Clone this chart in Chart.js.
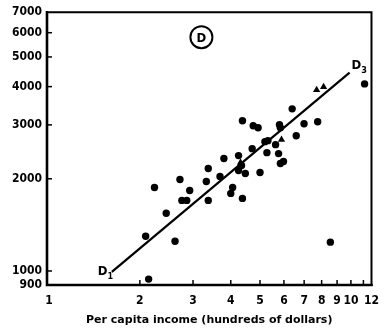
<!DOCTYPE html>
<html><head><meta charset="utf-8">
<script src="https://cdn.jsdelivr.net/npm/chart.js@4.4.0/dist/chart.umd.min.js"></script>
<style>html,body{margin:0;padding:0;background:#fff;} canvas{display:block;}</style>
</head><body>
<canvas id="c" width="388" height="330"></canvas>
<script>
// ---- data (per capita income in hundreds of dollars, y values) ----
const circleX = [2.09, 2.615, 2.138, 2.236, 2.445, 2.715, 2.925, 2.755, 2.86, 3.37, 3.32, 3.37, 3.685, 3.796, 4.245, 4.342, 4.245, 4.47, 4.058, 4.0, 4.373, 4.71, 4.373, 4.747, 4.928, 5.80, 5.84, 6.995, 7.76, 6.39, 6.59, 5.19, 5.31, 5.27, 5.63, 5.76, 5.98, 5.84, 5.0, 11.1, 8.55];
const circleY = [1299, 1251, 941, 1874, 1543, 1990, 1832, 1700, 1700, 2161, 1960, 1700, 2035, 2329, 2381, 2210, 2129, 2081, 1874, 1792, 1726, 2509, 3094, 2981, 2937, 3003, 2937, 3026, 3072, 3385, 2766, 2645, 2665, 2435, 2586, 2417, 2277, 2243, 2097, 4082, 1242];
const triangleX = [5.89, 4.31, 7.70, 8.12];
const triangleY = [2685, 2260, 3903, 3992];
const lineX = [1.615, 9.90];
const lineY = [994, 4442];
const xTickValues = [1, 2, 3, 4, 5, 6, 7, 8, 9, 10, 11, 11.7];
const xTickLabels = ['1', '2', '3', '4', '5', '6', '7', '8', '9', '10', '', '12'];
const yTickValues = [900, 1000, 2000, 3000, 4000, 5000, 6000, 7000];
const yTickLabels = ['900', '1000', '2000', '3000', '4000', '5000', '6000', '7000'];
const xTitle = 'Per capita income (hundreds of dollars)';
const lineLabels = [{text: 'D', sub: '1', x: 1.506, y: 992}, {text: 'D', sub: '3', x: 10.42, y: 4670}];
const panelLabel = {text: 'D', x: 3.198, y: 5803};

const FONT = "'DejaVu Sans Condensed', 'DejaVu Sans', sans-serif";
Chart.defaults.font.family = FONT;
Chart.defaults.color = '#000';

const toPts = (xs, ys) => xs.map((x, i) => ({x: x, y: ys[i]}));

const decor = {
  id: 'decor',
  beforeDraw(chart) {
    const c = chart.ctx;
    c.save(); c.fillStyle = '#fff'; c.fillRect(0, 0, chart.width, chart.height); c.restore();
  },
  afterDraw(chart) {
    const c = chart.ctx, a = chart.chartArea, xs = chart.scales.x, ys = chart.scales.y;
    c.save();
    c.strokeStyle = '#000';
    c.lineCap = 'square';
    // frame
    c.lineWidth = 2;
    c.beginPath(); c.moveTo(a.left, a.top); c.lineTo(a.right, a.top); c.lineTo(a.right, a.bottom); c.stroke();
    c.lineWidth = 2.6;
    c.beginPath(); c.moveTo(a.left, a.top); c.lineTo(a.left, a.bottom); c.lineTo(a.right, a.bottom); c.stroke();
    // inward ticks
    c.lineWidth = 1.5;
    c.lineCap = 'butt';
    xTickValues.slice(1, -1).forEach(v => {
      const p = xs.getPixelForValue(v);
      c.beginPath(); c.moveTo(p, a.bottom); c.lineTo(p, a.bottom - 5); c.stroke();
    });
    yTickValues.slice(1, -1).forEach(v => {
      const p = ys.getPixelForValue(v);
      c.beginPath(); c.moveTo(a.left - 1, p); c.lineTo(a.left + 5, p); c.stroke();
    });
    // line labels
    c.fillStyle = '#000';
    c.textBaseline = 'middle';
    lineLabels.forEach(l => {
      const px = xs.getPixelForValue(l.x), py = ys.getPixelForValue(l.y);
      c.font = 'bold 13px ' + FONT;
      c.textAlign = 'center';
      c.fillText(l.text, px, py);
      const w = c.measureText(l.text).width;
      c.font = 'bold 9px ' + FONT;
      c.textAlign = 'left';
      c.fillText(l.sub, px + w / 2, py + 5);
    });
    // circled panel label
    const cx = xs.getPixelForValue(panelLabel.x), cy = ys.getPixelForValue(panelLabel.y);
    c.lineWidth = 2;
    c.beginPath(); c.arc(cx, cy, 11, 0, Math.PI * 2); c.stroke();
    c.font = 'bold 13px ' + FONT;
    c.textAlign = 'center';
    c.fillText(panelLabel.text, cx, cy + 1);
    c.restore();
  }
};

new Chart(document.getElementById('c'), {
  type: 'scatter',
  data: {
    datasets: [
      {data: toPts(circleX, circleY), pointStyle: 'circle', pointRadius: 3.7, pointHoverRadius: 3.7, backgroundColor: '#000', borderColor: '#000', borderWidth: 0},
      {data: toPts(triangleX, triangleY), pointStyle: 'triangle', pointRadius: 4.2, pointHoverRadius: 4.2, backgroundColor: '#000', borderColor: '#000', borderWidth: 0},
      {type: 'line', data: toPts(lineX, lineY), showLine: true, pointRadius: 0, borderColor: '#000', borderWidth: 2.2, fill: false}
    ]
  },
  options: {
    responsive: false,
    animation: false,
    devicePixelRatio: 1,
    layout: {padding: {top: 11, right: 9, left: 0, bottom: 0}},
    plugins: {legend: {display: false}, tooltip: {enabled: false}},
    scales: {
      x: {
        type: 'logarithmic', min: 0.985, max: 11.7,
        grid: {display: false, drawTicks: false, tickLength: 0},
        border: {display: false},
        afterFit(s) { s.height = 45; },
        afterBuildTicks(s) { s.ticks = xTickValues.map(v => ({value: v})); },
        ticks: {
          autoSkip: false, maxRotation: 0, padding: 9,
          font: {size: 12, weight: 'bold'},
          callback(v, i) { return xTickLabels[i]; }
        },
        title: {display: true, text: xTitle, font: {family: "'DejaVu Sans', sans-serif", size: 11, weight: 'bold'}, padding: {top: 0, bottom: 3}}
      },
      y: {
        type: 'logarithmic', min: 900, max: 7000,
        grid: {display: false, drawTicks: false, tickLength: 0},
        border: {display: false},
        afterFit(s) { s.width = 47; },
        afterBuildTicks(s) { s.ticks = yTickValues.map(v => ({value: v})); },
        ticks: {
          autoSkip: false, padding: 5,
          font: {size: 12, weight: 'bold'},
          callback(v, i) { return yTickLabels[i]; }
        }
      }
    }
  },
  plugins: [decor]
});
</script>
</body></html>
